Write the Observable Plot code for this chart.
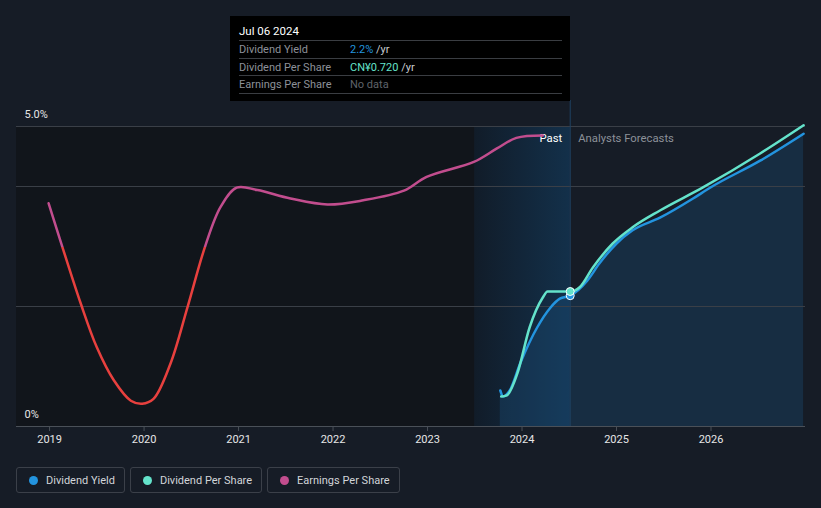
<!DOCTYPE html>
<html><head><meta charset="utf-8">
<script src="https://cdn.jsdelivr.net/npm/d3@7"></script>
<script src="https://cdn.jsdelivr.net/npm/@observablehq/plot@0.6"></script>
<style>
html,body{margin:0;padding:0}
body{background:#161c26;font-family:Roboto,"Noto Sans",sans-serif;width:821px;height:508px;overflow:hidden;position:relative}
#chart{position:absolute;left:0;top:0}
.tip{position:absolute;left:230px;top:16px;width:340px;height:85px;background:#000;box-sizing:border-box;padding:8px 8px 0 9px;font-size:11px}
.tip .hd{height:16px;line-height:15px;color:#fff;border-bottom:1px solid #3a3d42;font-size:11.5px}
.tip .row{height:16.5px;line-height:17px;border-bottom:1px solid #3a3d42;position:relative;color:#8d9199}
.tip .val{position:absolute;left:111px;top:0;color:#c9ccd1}
.legend{position:absolute;left:16px;top:467px;display:flex;gap:5px}
.item{box-sizing:border-box;border:1px solid #3b4049;border-radius:3px;height:26px;display:flex;align-items:center;padding:0 9px 0 12px;font-size:11px;color:#d2d5d9}
.dot{width:9px;height:9px;border-radius:50%;margin-right:8px}
</style>
</head><body>
<div id="chart"></div>
<div class="tip" id="tip"></div>
<div class="legend" id="legend"></div>
<script>
// ---- data ----
const years = [2019, 2020, 2021, 2022, 2023, 2024, 2025, 2026];
const yearLabels = ["2019", "2020", "2021", "2022", "2023", "2024", "2025", "2026"];
const yGrid = [2, 4, 5];
const yLabelValues = [0, 5];
const yLabelText = ["0%", "5.0%"];

const pastStart = 2023.5;
const tipDate = 2024.51;
const epsColorThreshold = 3.0;

// Earnings per share (plotted in chart units)
const epsX = [2018.99, 2019.13, 2019.33, 2019.50, 2019.68, 2019.86, 2019.98, 2020.10, 2020.28, 2020.46, 2020.65, 2020.81, 2020.98, 2021.20, 2021.55, 2021.94, 2022.32, 2022.75, 2022.99, 2023.49, 2023.73, 2023.94, 2024.22];
const epsY = [3.72, 3.02, 2.05, 1.32, 0.77, 0.43, 0.38, 0.46, 1.05, 1.99, 3.02, 3.66, 3.98, 3.94, 3.80, 3.70, 3.77, 3.93, 4.16, 4.41, 4.63, 4.81, 4.85];

// Dividend yield (%)
const dyX = [2023.77, 2023.80, 2023.87, 2023.98, 2024.16, 2024.30, 2024.40, 2024.51, 2024.69, 2024.82, 2025.00, 2025.17, 2025.46, 2025.81, 2025.99, 2026.52, 2026.98];
const dyY = [0.60, 0.50, 0.60, 1.05, 1.65, 1.98, 2.13, 2.18, 2.43, 2.72, 3.05, 3.27, 3.48, 3.80, 3.98, 4.43, 4.88];

// Dividend per share (chart units)
const dpsX = [2023.78, 2023.84, 2023.95, 2024.08, 2024.22, 2024.27, 2024.51, 2024.61, 2024.75, 2024.96, 2025.17, 2025.46, 2025.91, 2026.52, 2026.98];
const dpsY = [0.50, 0.52, 0.88, 1.65, 2.15, 2.25, 2.25, 2.32, 2.65, 3.05, 3.32, 3.60, 3.98, 4.55, 5.02];

const seriesNames = ["Dividend Yield", "Dividend Per Share", "Earnings Per Share"];
const seriesColors = ["#2394df", "#64e3cb", "#c24d8e"];
const epsLowColor = "#e8403e";

const tipTitle = "Jul 06 2024";
const tipValues = [["2.2%", " /yr"], ["CN¥0.720", " /yr"], ["No data", ""]];
const tipValueColors = ["#2394df", "#64e3cb", "#5f636a"];

// ---- build ----
const eps = epsX.map((x, i) => ({x, y: epsY[i]}));
const dy = dyX.map((x, i) => ({x, y: dyY[i]}));
const dps = dpsX.map((x, i) => ({x, y: dpsY[i]}));
const dyTip = dy.filter(d => d.x === tipDate);
const dpsTip = dps.filter(d => d.x === tipDate);

const W = 821, H = 460;
const plot = Plot.plot({
  width: W, height: H,
  marginLeft: 16, marginRight: 16, marginTop: 126, marginBottom: 34,
  style: {background: "transparent", color: "#e6e6e6", fontFamily: "Roboto, sans-serif", fontSize: "11px", overflow: "visible"},
  x: {domain: [2018.65, 2027.0], axis: null},
  y: {domain: [0, 5], axis: null},
  marks: [
    Plot.rect([{a: 2018.65, b: pastStart}], {x1: "a", x2: "b", y1: 0, y2: 5, fill: "#11151b"}),
    Plot.rect([{a: pastStart, b: tipDate}], {x1: "a", x2: "b", y1: 0, y2: 5, fill: "url(#bandGrad)"}),
    Plot.areaY(dy, {x: "x", y: "y", fill: "#1e5a8c", fillOpacity: 0.28, curve: "monotone-x"}),
    Plot.ruleY(yGrid, {stroke: "#3a3f47", strokeWidth: 1}),
    Plot.ruleX([tipDate], {stroke: "#1f4262", strokeWidth: 1, insetTop: -26}),
    Plot.ruleY([0], {stroke: "#4a5058", strokeWidth: 1}),
    Plot.axisX({ticks: years, tickFormat: d => yearLabels[years.indexOf(d)], tickSize: 5, tickPadding: 4, stroke: "#4a5058", color: "#e6e6e6", fontSize: 11}),
    Plot.text(yLabelValues, {y: d => d, frameAnchor: "left", lineAnchor: "middle", dx: 8, dy: -12, textAnchor: "start", text: (d, i) => yLabelText[i], fill: "#e6e6e6", fontSize: 11}),
    Plot.text([tipDate], {x: d => d, frameAnchor: "top", lineAnchor: "middle", dy: 12, dx: -8, textAnchor: "end", text: () => "Past", fill: "#ffffff", fontSize: 11.3}),
    Plot.text([tipDate], {x: d => d, frameAnchor: "top", lineAnchor: "middle", dy: 12, dx: 8, textAnchor: "start", text: () => "Analysts Forecasts", fill: "#8c9199", fontSize: 11.3}),
    Plot.line(eps, {x: "x", y: "y", stroke: "url(#epsGrad)", strokeWidth: 2.5, curve: "catmull-rom"}),
    Plot.line(dy, {x: "x", y: "y", stroke: seriesColors[0], strokeWidth: 2.5, curve: "monotone-x"}),
    Plot.line(dps, {x: "x", y: "y", stroke: seriesColors[1], strokeWidth: 2.5, curve: "monotone-x"}),
    Plot.dot(dyTip, {x: "x", y: "y", r: 4, fill: seriesColors[0], stroke: "#fff", strokeWidth: 1}),
    Plot.dot(dpsTip, {x: "x", y: "y", r: 4, fill: seriesColors[1], stroke: "#fff", strokeWidth: 1})
  ]
});

const ys = plot.scale("y");
const thr = ys.apply(epsColorThreshold) / H;
const svg = d3.select(plot);
const defs = svg.insert("defs", ":first-child");
const g1 = defs.append("linearGradient").attr("id", "epsGrad").attr("gradientUnits", "userSpaceOnUse")
  .attr("x1", 0).attr("x2", 0).attr("y1", 0).attr("y2", H);
g1.append("stop").attr("offset", thr).attr("stop-color", seriesColors[2]);
g1.append("stop").attr("offset", thr).attr("stop-color", epsLowColor);
const g2 = defs.append("linearGradient").attr("id", "bandGrad").attr("x1", 0).attr("x2", 1).attr("y1", 0).attr("y2", 0);
g2.append("stop").attr("offset", 0).attr("stop-color", "#111c29");
g2.append("stop").attr("offset", 1).attr("stop-color", "#13304a");

document.getElementById("chart").appendChild(plot);

// tooltip
const tip = document.getElementById("tip");
let html = `<div class="hd">${tipTitle}</div>`;
seriesNames.forEach((n, i) => {
  html += `<div class="row">${n}<span class="val"><span style="color:${tipValueColors[i]}">${tipValues[i][0]}</span>${tipValues[i][1]}</span></div>`;
});
tip.innerHTML = html;

// legend
const lg = document.getElementById("legend");
seriesNames.forEach((n, i) => {
  const it = document.createElement("div");
  it.className = "item";
  it.innerHTML = `<span class="dot" style="background:${seriesColors[i]}"></span>${n}`;
  lg.appendChild(it);
});
</script>
</body></html>
